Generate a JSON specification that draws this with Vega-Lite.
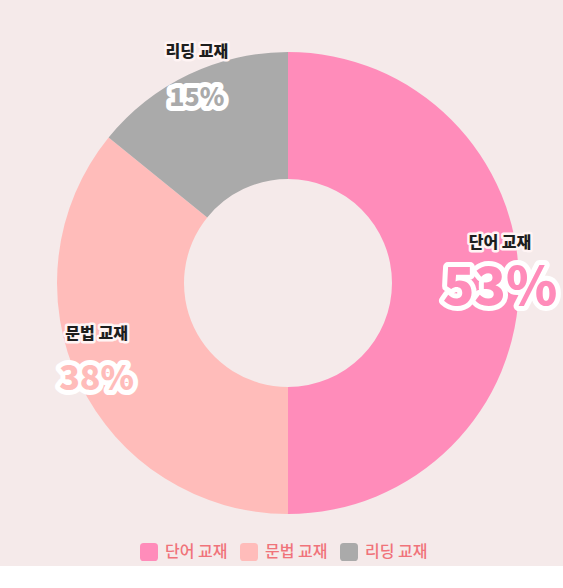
{
  "$schema": "https://vega.github.io/schema/vega-lite/v6.json",
  "width": 576,
  "height": 566,
  "autosize": "none",
  "padding": 0,
  "background": "#f5eaea",
  "data": {
    "values": [
      {"category": "단어 교재", "value": 53},
      {"category": "문법 교재", "value": 38},
      {"category": "리딩 교재", "value": 15}
    ]
  },
  "transform": [{"calculate": "datum.value + '%'", "as": "pct"}],
  "encoding": {
    "theta": {"field": "value", "type": "quantitative", "stack": true},
    "order": {"field": "value", "type": "quantitative", "sort": "descending"},
    "color": {
      "field": "category",
      "type": "nominal",
      "scale": {
        "domain": ["단어 교재", "문법 교재", "리딩 교재"],
        "range": ["#ff8cba", "#ffbcba", "#aaaaaa"]
      },
      "legend": {
        "title": null,
        "orient": "none",
        "legendX": 140,
        "legendY": 543,
        "direction": "horizontal",
        "symbolType": "M-0.6,-1H0.6Q1,-1 1,-0.6V0.6Q1,1 0.6,1H-0.6Q-1,1 -1,0.6V-0.6Q-1,-1 -0.6,-1Z",
        "symbolSize": 324,
        "symbolStrokeWidth": 0,
        "symbolOpacity": 1,
        "labelColor": "#f0737a",
        "labelFont": "Noto Sans CJK KR",
        "labelFontSize": 16,
        "labelFontWeight": 500,
        "labelOffset": 7,
        "columnPadding": 12
      }
    }
  },
  "layer": [
    {"mark": {"type": "arc", "outerRadius": 231, "innerRadius": 104}},
    {
      "mark": {"type": "text", "radius": 212, "dy": 6, "font": "Noto Sans CJK KR", "fontWeight": 900, "stroke": "white", "strokeWidth": 10, "strokeJoin": "round"},
      "encoding": {
        "text": {"field": "pct"},
        "color": {"value": "white"},
        "size": {"field": "value", "type": "quantitative", "scale": {"domain": [15, 38, 53], "range": [25, 34, 52]}, "legend": null}
      }
    },
    {
      "mark": {"type": "text", "radius": 212, "dy": 6, "font": "Noto Sans CJK KR", "fontWeight": 900},
      "encoding": {
        "text": {"field": "pct"},
        "size": {"field": "value", "type": "quantitative", "scale": {"domain": [15, 38, 53], "range": [25, 34, 52]}, "legend": null}
      }
    },
    {
      "mark": {"type": "text", "radius": 212, "dy": -40, "font": "Noto Sans CJK KR", "fontWeight": 900, "fontSize": 16, "stroke": "#fff4f4", "strokeWidth": 5, "strokeJoin": "round"},
      "encoding": {"text": {"field": "category"}, "color": {"value": "#fff4f4"}}
    },
    {
      "mark": {"type": "text", "radius": 212, "dy": -40, "font": "Noto Sans CJK KR", "fontWeight": 900, "fontSize": 16},
      "encoding": {"text": {"field": "category"}, "color": {"value": "#1e1e1e"}}
    }
  ]
}
